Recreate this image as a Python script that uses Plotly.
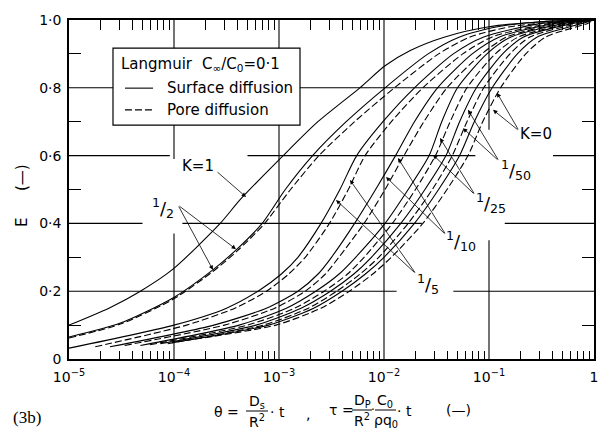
import plotly.graph_objects as go

# ---------------- data (x stored as log10 of theta / tau) ----------------
K1_lx = [-5.0, -4.62, -4.32, -4.01, -3.56, -3.37, -2.96, -2.63, -2.23, -1.99, -1.75, -1.42, -1.0, -0.5, 0.0]
K1_E = [0.10, 0.15, 0.20, 0.265, 0.40, 0.47, 0.60, 0.70, 0.80, 0.865, 0.91, 0.95, 0.98, 0.995, 1.0]

K2s_lx = [-5.0, -4.51, -4.01, -3.63, -3.40, -3.16, -2.94, -2.68, -2.36, -1.99, -1.58, -1.28, -0.92, -0.5, 0.0]
K2s_E = [0.065, 0.106, 0.18, 0.263, 0.324, 0.40, 0.50, 0.60, 0.70, 0.80, 0.90, 0.95, 0.98, 0.995, 1.0]
K2d_lx = [-5.0, -4.51, -4.01, -3.63, -3.40, -3.15, -2.89, -2.62, -2.28, -1.90, -1.48, -1.18, -0.80, -0.35, 0.0]
K2d_E = [0.062, 0.103, 0.176, 0.258, 0.318, 0.395, 0.50, 0.60, 0.70, 0.80, 0.90, 0.95, 0.98, 0.995, 1.0]

# E levels shared by the lower family: start value first, then these
E_lower = [0.10, 0.15, 0.20, 0.25, 0.30, 0.40, 0.50, 0.60, 0.70, 0.80, 0.90, 0.95, 0.99, 1.0]

K5s_start, K5s_lx = (-5.00, 0.032), [-4.00, -3.50, -3.20, -2.98, -2.82, -2.60, -2.42, -2.26, -2.01, -1.71, -1.34, -1.05, -0.50, -0.10]
K5d_start, K5d_lx = (-4.75, 0.036), [-3.88, -3.42, -3.12, -2.91, -2.75, -2.52, -2.34, -2.18, -1.93, -1.63, -1.25, -0.97, -0.42, -0.05]
K10s_start, K10s_lx = (-4.61, 0.036), [-3.62, -3.12, -2.82, -2.63, -2.50, -2.28, -2.08, -1.89, -1.71, -1.49, -1.16, -0.90, -0.37, 0.0]
K10d_start, K10d_lx = (-4.47, 0.040), [-3.52, -3.04, -2.75, -2.56, -2.43, -2.19, -1.99, -1.81, -1.62, -1.40, -1.07, -0.83, -0.32, 0.0]
K25s_start, K25s_lx = (-4.32, 0.040), [-3.38, -2.93, -2.65, -2.43, -2.27, -1.99, -1.77, -1.57, -1.45, -1.30, -1.02, -0.79, -0.28, 0.0]
K25d_start, K25d_lx = (-4.23, 0.042), [-3.30, -2.85, -2.57, -2.35, -2.19, -1.92, -1.70, -1.51, -1.37, -1.21, -0.94, -0.72, -0.23, 0.0]
K50s_start, K50s_lx = (-4.13, 0.045), [-3.22, -2.79, -2.51, -2.29, -2.12, -1.84, -1.61, -1.41, -1.28, -1.12, -0.87, -0.67, -0.20, 0.0]
K50d_start, K50d_lx = (-4.06, 0.045), [-3.15, -2.72, -2.45, -2.23, -2.05, -1.77, -1.54, -1.35, -1.21, -1.05, -0.80, -0.61, -0.15, 0.0]
K0s_start, K0s_lx = (-4.02, 0.048), [-3.10, -2.67, -2.40, -2.18, -2.00, -1.71, -1.48, -1.28, -1.14, -0.97, -0.73, -0.54, -0.11, 0.0]
K0d_start, K0d_lx = (-3.99, 0.050), [-3.03, -2.60, -2.33, -2.11, -1.93, -1.63, -1.40, -1.20, -1.06, -0.89, -0.65, -0.46, -0.06, 0.0]

x_tick_vals = [1e-5, 1e-4, 1e-3, 1e-2, 1e-1, 1]
x_tick_text = ["10<sup>−5</sup>", "10<sup>−4</sup>", "10<sup>−3</sup>", "10<sup>−2</sup>", "10<sup>−1</sup>", "1"]
y_tick_vals = [0, 0.2, 0.4, 0.6, 0.8, 1.0]
y_tick_text = ["0", "0·2", "0·4", "0·6", "0·8", "1·0"]

FONT = "DejaVu Sans"
DASH = "7px,3px"

# page body has an 8px margin: shrink the figure so the plot area lands at (69,20)-(594,359)
OFF = 8
W, H = 607 - OFF, 432 - OFF
ML, MR, MT, MB = 69 - OFF, 13, 20 - OFF, 73


def lower(start, lx):
    return [start[0]] + lx, [start[1]] + E_lower


series = [(K1_lx, K1_E, "solid"), (K2s_lx, K2s_E, "solid"), (K2d_lx, K2d_E, DASH)]
for st, lx, dsh in [
    (K5s_start, K5s_lx, "solid"), (K5d_start, K5d_lx, DASH),
    (K10s_start, K10s_lx, "solid"), (K10d_start, K10d_lx, DASH),
    (K25s_start, K25s_lx, "solid"), (K25d_start, K25d_lx, DASH),
    (K50s_start, K50s_lx, "solid"), (K50d_start, K50d_lx, DASH),
    (K0s_start, K0s_lx, "solid"), (K0d_start, K0d_lx, DASH),
]:
    xs, ys = lower(st, lx)
    series.append((xs, ys, dsh))

fig = go.Figure()
for lx, E, dsh in series:
    fig.add_trace(go.Scatter(
        x=[10 ** v for v in lx], y=E, mode="lines", showlegend=False, hoverinfo="skip",
        line=dict(color="black", width=1.1, dash=dsh, shape="spline", smoothing=0.7)))

# invisible trace that carries the mirrored tick axes
fig.add_trace(go.Scatter(x=[1e-3], y=[0.5], xaxis="x2", yaxis="y2", mode="markers",
                         marker=dict(opacity=0), showlegend=False, hoverinfo="skip"))

minor_x = [m * 10.0 ** d for d in range(-5, 0) for m in range(2, 10)]
minor_y = [0.1, 0.3, 0.5, 0.7, 0.9]

fig.update_layout(
    width=W, height=H,
    margin=dict(l=ML, r=MR, t=MT, b=MB, autoexpand=False),
    paper_bgcolor="white", plot_bgcolor="white",
    font=dict(family=FONT, color="black", size=14),
    xaxis=dict(type="log", range=[-5, 0], tickvals=x_tick_vals, ticktext=x_tick_text,
               ticks="", showgrid=False, zeroline=False, showline=True, linecolor="black",
               linewidth=1.5, mirror=True, tickfont=dict(size=14, family=FONT), automargin=False,
               ticklabelstandoff=4,
               minor=dict(tickvals=minor_x, ticks="inside", ticklen=8, tickcolor="black",
                          tickwidth=1, showgrid=False)),
    xaxis2=dict(type="log", range=[-5, 0], overlaying="x", side="top", anchor="y2",
                showticklabels=False, ticks="", showgrid=False, zeroline=False, automargin=False,
                minor=dict(tickvals=minor_x, ticks="inside", ticklen=10, tickcolor="black",
                           tickwidth=1, showgrid=False)),
    yaxis=dict(range=[0, 1.0], tickvals=y_tick_vals, ticktext=y_tick_text, ticks="",
               showgrid=False, zeroline=False, showline=True, linecolor="black", linewidth=1.5,
               mirror=True, tickfont=dict(size=14, family=FONT), automargin=False,
               ticklabelstandoff=3,
               minor=dict(tickvals=minor_y, ticks="inside", ticklen=12, tickcolor="black",
                          tickwidth=1, showgrid=False)),
    yaxis2=dict(range=[0, 1.0], overlaying="y", side="right", anchor="x2",
                showticklabels=False, ticks="", showgrid=False, zeroline=False, automargin=False,
                minor=dict(tickvals=minor_y, ticks="inside", ticklen=12, tickcolor="black",
                           tickwidth=1, showgrid=False)),
)


def px_(lx):  # log10 x -> paper fraction
    return (lx + 5) / 5


def pline(lx0, E0, lx1, E1, dash="solid", layer="above", width=1.1):
    fig.add_shape(type="line", xref="paper", yref="paper", x0=px_(lx0), x1=px_(lx1), y0=E0, y1=E1,
                  line=dict(color="black", width=width, dash=dash), layer=layer)


# ---------------- broken grid lines (as in the printed figure) ----------------
h_grid = [
    (0.8, [(-5, 0)]),
    (0.6, [(-5, -4.04), (-3.30, -1.13), (-0.39, 0)]),
    (0.4, [(-5, -4.30), (-3.92, -1.64), (-0.85, 0)]),
    (0.2, [(-5, -1.88), (-1.34, 0)]),
]
v_grid = [
    (-4, [(0, 0.37), (0.59, 1.0)]),
    (-3, [(0, 1.0)]),
    (-2, [(0, 1.0)]),
    (-1, [(0, 0.35), (0.676, 1.0)]),
]
for E, segs in h_grid:
    for a, b in segs:
        pline(a, E, b, E, layer="below")
for lx, segs in v_grid:
    for a, b in segs:
        pline(lx, a, lx, b, layer="below")

# ---------------- legend box ----------------
fig.add_shape(type="rect", xref="paper", yref="paper", x0=px_(-4.581), x1=px_(-2.80), y0=0.690, y1=0.917,
              line=dict(color="black", width=1.2), fillcolor="white", layer="above")
pline(-4.467, 0.799, -4.20, 0.799)
pline(-4.467, 0.735, -4.20, 0.735, dash=DASH)


def txt(lx, E, s, size=15, xa="center", ya="middle"):
    fig.add_annotation(x=lx, y=E, xref="x", yref="y", text=s, showarrow=False,
                       xanchor=xa, yanchor=ya, font=dict(size=size, family=FONT, color="black"))


txt(-4.524, 0.870, "Langmuir", xa="left")
txt(-3.752, 0.870, "C<sub>∞</sub>/C<sub>0</sub>=0·1", xa="left")
txt(-4.086, 0.799, "Surface diffusion", xa="left")
txt(-4.086, 0.735, "Pore diffusion", xa="left")

# ---------------- curve labels and arrows ----------------
labels = [
    ("K=1", 15, (-3.771, 0.569), (-3.60, 0.555), [(-3.314, 0.478)]),
    ("<sup>1</sup>/<sub>2</sub>", 18, (-4.105, 0.445), (-3.962, 0.454), [(-3.410, 0.324), (-3.629, 0.263)]),
    ("<sup>1</sup>/<sub>5</sub>", 18, (-1.581, 0.221), (-1.695, 0.251), [(-2.457, 0.469), (-2.324, 0.528)]),
    ("<sup>1</sup>/<sub>10</sub>", 18, (-1.267, 0.348), (-1.410, 0.366), [(-1.981, 0.537), (-1.867, 0.593)]),
    ("<sup>1</sup>/<sub>25</sub>", 18, (-0.981, 0.460), (-1.133, 0.484), [(-1.533, 0.602), (-1.467, 0.652)]),
    ("<sup>1</sup>/<sub>50</sub>", 18, (-0.743, 0.558), (-0.905, 0.584), [(-1.248, 0.681), (-1.200, 0.735)]),
    ("K=0", 15, (-0.552, 0.664), (-0.714, 0.673), [(-0.924, 0.785), (-0.962, 0.735)]),
]
for s, size, pos, tail, heads in labels:
    txt(pos[0], pos[1], s, size=size)
    for hx, hy in heads:
        fig.add_annotation(x=hx, y=hy, xref="x", yref="y", ax=tail[0], ay=tail[1],
                           axref="x", ayref="y", text="", showarrow=True,
                           arrowhead=2, arrowsize=1.1, arrowwidth=0.8, arrowcolor="black",
                           standoff=0, startstandoff=0)


# ---------------- axis titles (placed in screen pixels of the 607x432 page) ----------------
def ptxt(px, py, s, size=14, family=FONT, angle=0):
    fig.add_annotation(x=(px - 69) / 525, y=(359 - py) / 339, xref="paper", yref="paper",
                       text=s, showarrow=False, xanchor="center", yanchor="middle",
                       textangle=angle, font=dict(size=size, family=family, color="black"))


def pbar(px0, px1, py):
    fig.add_shape(type="line", xref="paper", yref="paper", x0=(px0 - 69) / 525, x1=(px1 - 69) / 525,
                  y0=(359 - py) / 339, y1=(359 - py) / 339, line=dict(color="black", width=1))


ptxt(22, 223, "E", size=15, angle=-90)
ptxt(22, 178, "(—)", size=15, angle=-90)

ptxt(226, 412, "θ =")
ptxt(257, 402, "D<sub>s</sub>")
pbar(246, 268, 411)
ptxt(257, 421, "R<sup>2</sup>")
ptxt(277, 412, "· t")
ptxt(308, 414, ",")
ptxt(341, 410, "τ =")
ptxt(362, 401, "D<sub>P</sub>")
pbar(352, 372, 410)
ptxt(362, 420, "R<sup>2</sup>")
ptxt(373, 410, "·", size=12)
ptxt(385, 401, "C<sub>0</sub>")
pbar(375, 396, 410)
ptxt(386, 421, "ρq<sub>0</sub>")
ptxt(404, 411, "· t")
ptxt(458, 410, "(—)")
ptxt(27, 417, "(3b)", size=17, family="Liberation Serif")

fig.write_html("out.html")
